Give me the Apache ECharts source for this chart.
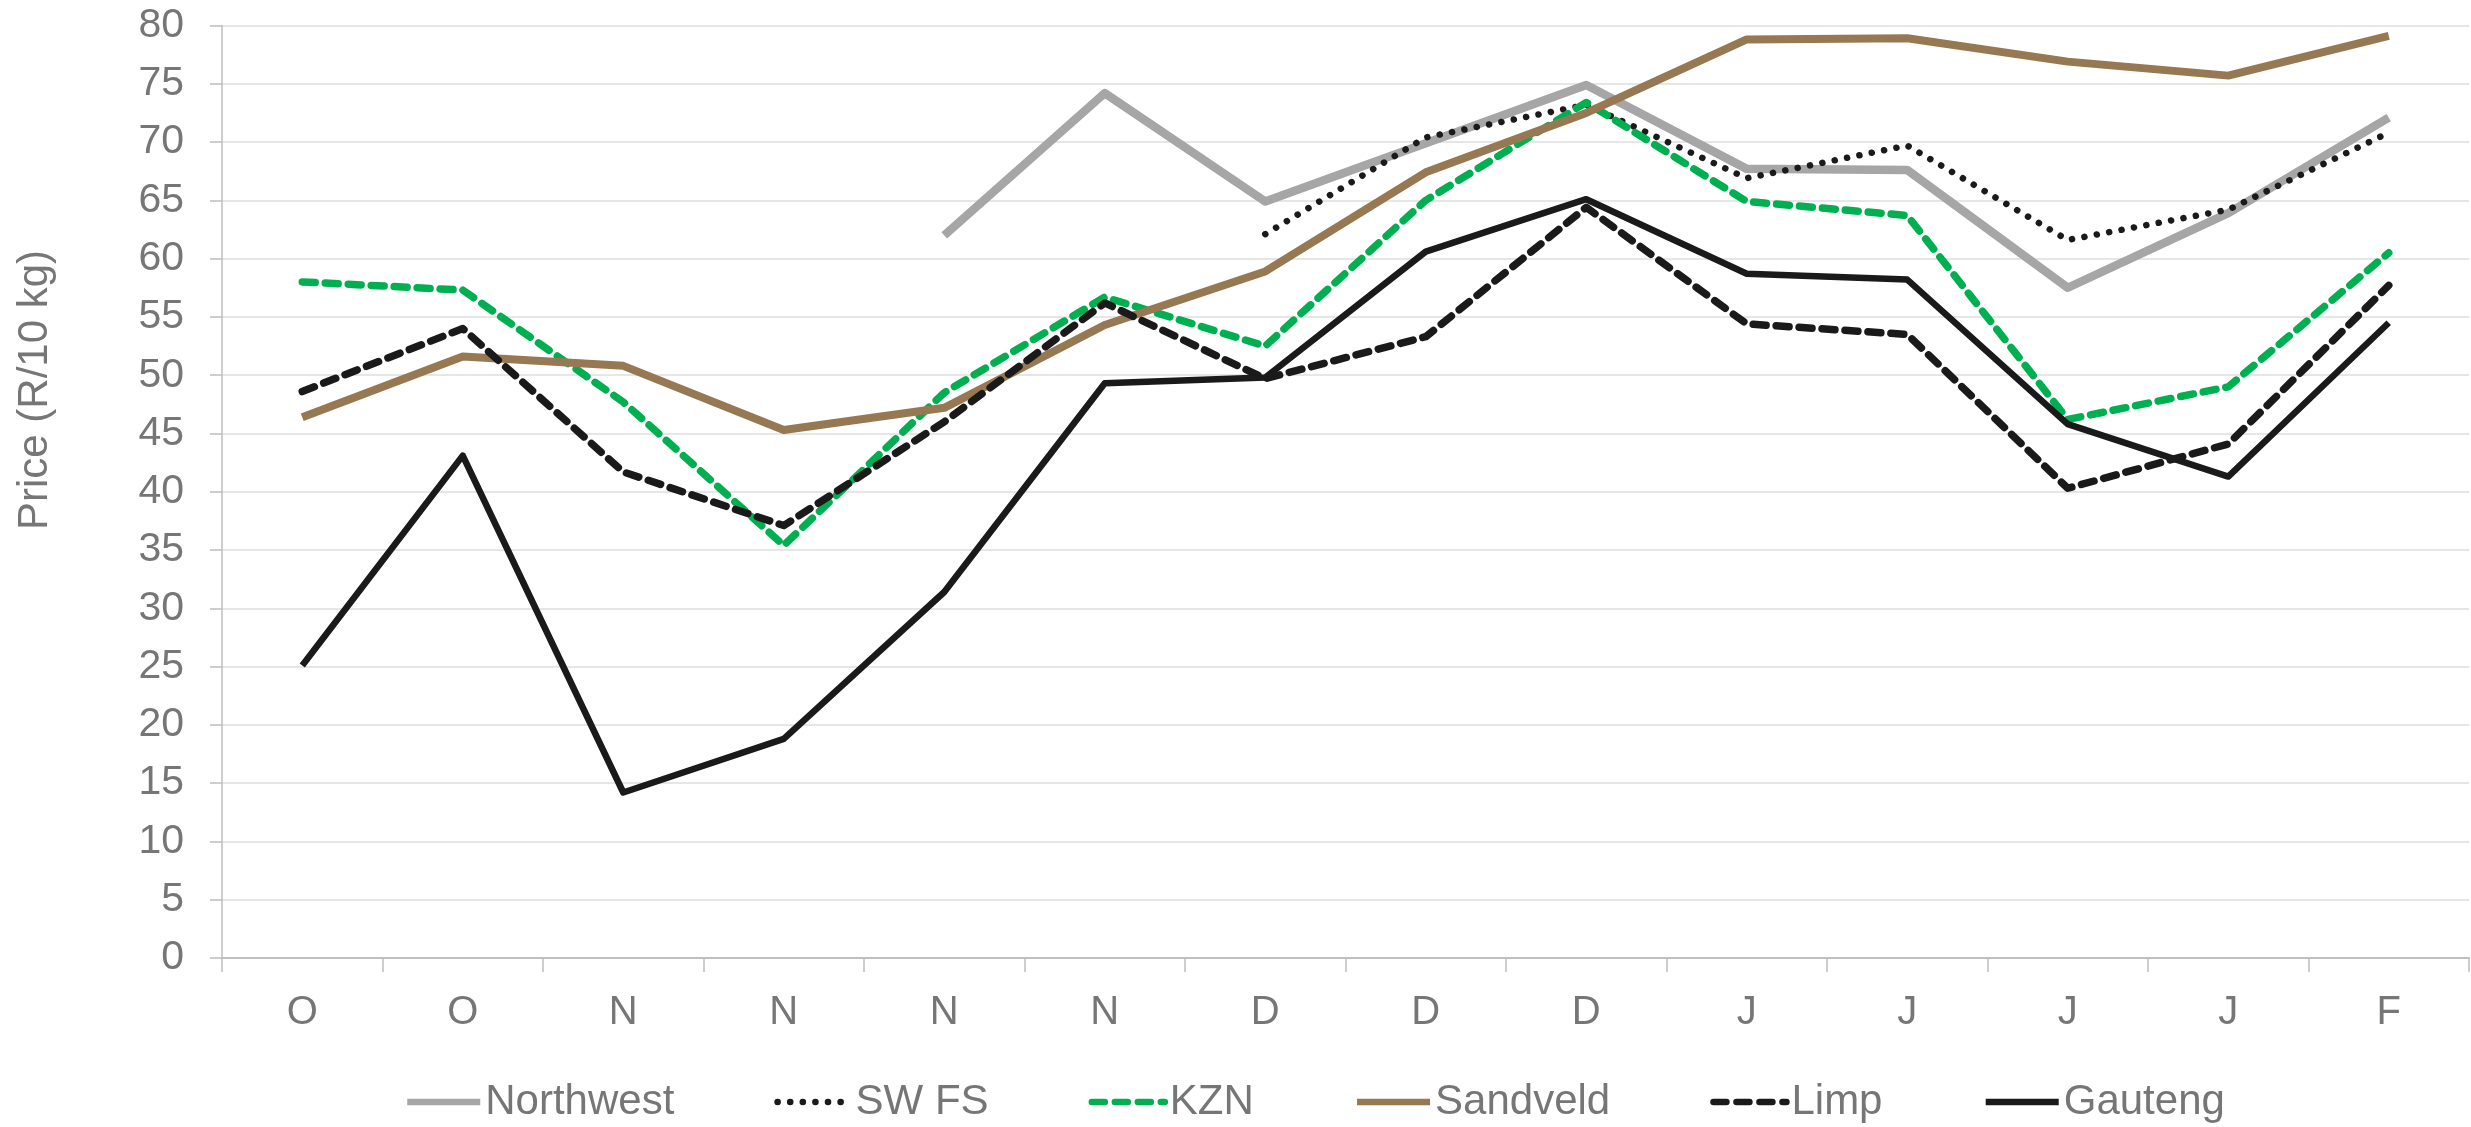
<!DOCTYPE html>
<html>
<head>
<meta charset="utf-8">
<script src="https://cdn.jsdelivr.net/npm/echarts@6/dist/echarts.min.js"></script>
<style>
html,body{margin:0;padding:0;background:#fff;}
#chart{width:2471px;height:1127px;}
</style>
</head>
<body>
<div id="chart"></div>
<script>
const categories = ['O','O','N','N','N','N','D','D','D','J','J','J','J','F'];
const northwest = [null,null,null,null,62.0,74.2,64.9,69.9,74.9,67.7,67.6,57.5,63.9,72.1];
const swfs      = [null,null,null,null,null,null,62.1,70.4,73.2,66.9,69.7,61.6,64.2,70.8];
const kzn       = [58.0,57.3,47.7,35.4,48.5,56.7,52.5,65.0,73.4,64.9,63.7,46.2,49.0,60.5];
const sandveld  = [46.4,51.6,50.8,45.3,47.2,54.3,58.9,67.4,72.5,78.8,78.9,76.9,75.7,79.1];
const limp      = [48.6,54.0,41.7,37.1,46.0,56.2,49.7,53.3,64.4,54.4,53.5,40.3,44.1,57.7];
const gauteng   = [25.1,43.1,14.2,18.8,31.4,49.3,49.8,60.6,65.1,58.7,58.2,45.8,41.3,54.5];
const yTitle = 'Price (R/10 kg)';

const textColor = '#767676';
const font = 'Liberation Sans, Arial, sans-serif';

function lineSeries(name, data, color, width, dash) {
  const ls = {color: color, width: width, cap: dash ? 'round' : 'butt', join: 'round'};
  if (dash) ls.type = dash;
  return {name: name, type: 'line', data: data, symbol: 'none', showSymbol: false,
          lineStyle: ls, itemStyle: {color: color},
          emphasis: {disabled: true}};
}

const chart = echarts.init(document.getElementById('chart'), null, {renderer:'canvas'});
chart.setOption({
  animation: false,
  backgroundColor: '#ffffff',
  grid: {left: 222, right: 2, top: 25.5, height: 932.5, containLabel: false},
  legend: {
    left: 399, top: 1076,
    itemWidth: 73, itemHeight: 14, itemGap: 100,
    itemStyle: {opacity: 0},
    lineStyle: {width: 6.5},
    textStyle: {fontSize: 42, color: textColor, fontFamily: font},
    data: ['Northwest','SW FS','KZN','Sandveld','Limp','Gauteng']
  },
  graphic: [{
    type: 'text',
    rotation: Math.PI/2,
    x: 35, y: 390,
    style: {text: yTitle, fontSize: 42, fill: textColor, fontFamily: font, textAlign:'center', textVerticalAlign:'middle'}
  }],
  xAxis: {
    type: 'category', data: categories, boundaryGap: true,
    axisLine: {lineStyle: {color: '#bfbfbf', width: 2}},
    axisTick: {show: true, length: 14, lineStyle: {color: '#bfbfbf', width: 1.5}},
    axisLabel: {fontSize: 40, color: textColor, fontFamily: font, margin: 35}
  },
  yAxis: {
    type: 'value', min: 0, max: 80, interval: 5,
    axisLine: {show: true, lineStyle: {color: '#bfbfbf', width: 1.5}},
    axisTick: {show: true, length: 12, lineStyle: {color: '#bfbfbf', width: 1.5}},
    axisLabel: {fontSize: 41, color: textColor, fontFamily: font, margin: 38},
    splitLine: {lineStyle: {color: '#dedede', width: 1.5}}
  },
  series: [
    lineSeries('Northwest', northwest, '#a6a6a6', 8.5),
    lineSeries('SW FS', swfs, '#1a1a1a', 6.5, [0.1, 12.5]),
    lineSeries('KZN', kzn, '#00b050', 7.5, [13, 10]),
    lineSeries('Sandveld', sandveld, '#967852', 8),
    lineSeries('Limp', limp, '#1a1a1a', 7.5, [13, 10]),
    lineSeries('Gauteng', gauteng, '#1a1a1a', 6.5)
  ]
});
</script>
</body>
</html>
